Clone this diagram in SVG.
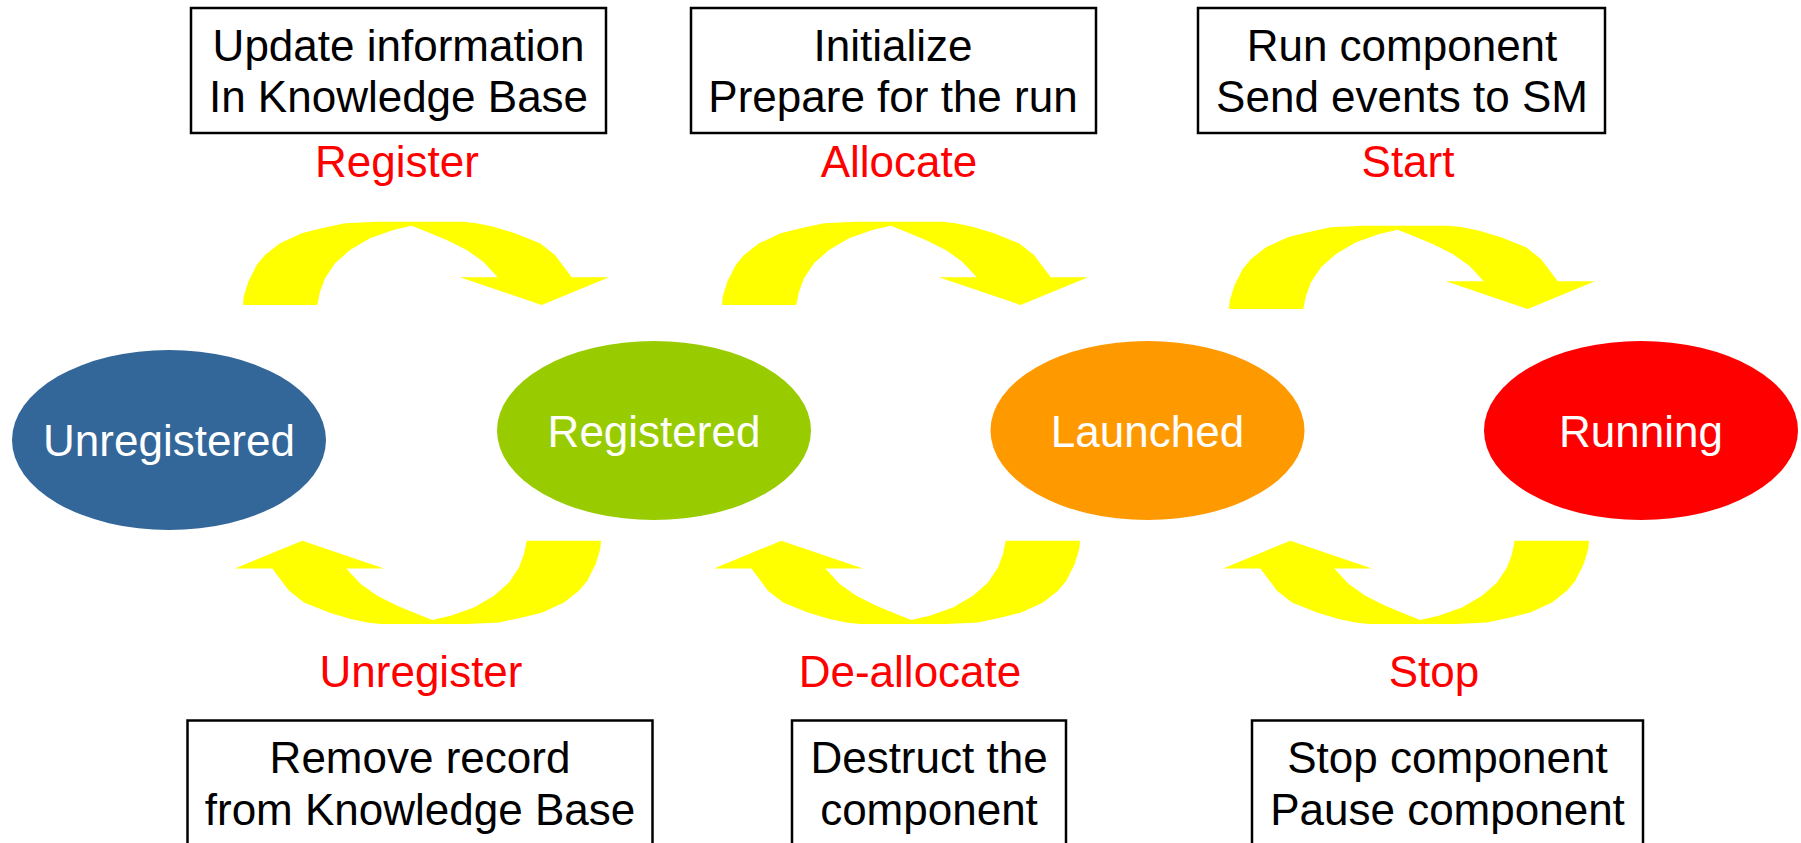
<svg xmlns="http://www.w3.org/2000/svg" xmlns:xlink="http://www.w3.org/1999/xlink" width="1801" height="843" viewBox="0 0 1801 843">
<style>
text{font-family:"Liberation Sans",Arial,Helvetica,sans-serif;font-size:44px;text-anchor:middle}
.box{fill:#fff;stroke:#000;stroke-width:2.5}
.bt{fill:#000}
.lbl{fill:#ff0000}
.st{fill:#fff}
.arr{fill:#ffff00}
</style>
<defs>
<path id="curl" class="arr" d="M0,0 L0.7,-8.3 L5.3,-23.3 L13.7,-40 L22,-50 L37,-61.7 L58.7,-71.7 L78.7,-76.7 L102,-81.7 L133.7,-83.3 L220.3,-83.3 L233.7,-81.7 L250.3,-78.3 L272,-71.7 L297,-61.7 L312,-50 L328.7,-27.7 L366,-27.7 L298.7,0 L217,-27.7 L254.7,-27.7 L240.3,-43.3 L223.7,-55 L203.7,-65 L183.7,-73.3 L168.7,-79.3 L150.3,-75 L127,-66.7 L107,-55 L92,-41.7 L82,-26.7 L77,-13.3 L74.3,0 Z"/>
</defs>
<rect width="1801" height="843" fill="#fff"/>
<g id="connectors">
<use xlink:href="#curl" href="#curl" transform="translate(243,305)"/>
<use xlink:href="#curl" href="#curl" transform="translate(722,305)"/>
<use xlink:href="#curl" href="#curl" transform="translate(1229,309)"/>
<use xlink:href="#curl" href="#curl" transform="translate(601,540.7) rotate(180)"/>
<use xlink:href="#curl" href="#curl" transform="translate(1080,540.7) rotate(180)"/>
<use xlink:href="#curl" href="#curl" transform="translate(1589,540.7) rotate(180)"/>
</g>
<g id="labels">
<text class="lbl" x="397" y="177">Register</text>
<text class="lbl" x="899" y="177">Allocate</text>
<text class="lbl" x="1408" y="177">Start</text>
<text class="lbl" x="421" y="687">Unregister</text>
<text class="lbl" x="910" y="687">De-allocate</text>
<text class="lbl" x="1434" y="687">Stop</text>
</g>
<g id="note-register">
<rect class="box" x="191" y="8" width="415" height="125"/>
<text class="bt" x="398.5" y="61">Update information</text>
<text class="bt" x="398.5" y="112">In Knowledge Base</text>
</g>
<g id="note-allocate">
<rect class="box" x="691" y="8" width="405" height="125"/>
<text class="bt" x="893" y="61">Initialize</text>
<text class="bt" x="893" y="112">Prepare for the run</text>
</g>
<g id="note-start">
<rect class="box" x="1198" y="8" width="407" height="125"/>
<text class="bt" x="1402" y="61">Run component</text>
<text class="bt" x="1402" y="112">Send events to SM</text>
</g>
<g id="note-unregister">
<rect class="box" x="187.5" y="720.5" width="465" height="140"/>
<text class="bt" x="420" y="773">Remove record</text>
<text class="bt" x="420" y="825">from Knowledge Base</text>
</g>
<g id="note-deallocate">
<rect class="box" x="792" y="720.5" width="274" height="140"/>
<text class="bt" x="929" y="773">Destruct the</text>
<text class="bt" x="929" y="825">component</text>
</g>
<g id="note-stop">
<rect class="box" x="1252" y="720.5" width="391" height="140"/>
<text class="bt" x="1447.5" y="773">Stop component</text>
<text class="bt" x="1447.5" y="825">Pause component</text>
</g>
<g id="unregistered">
<ellipse cx="169" cy="440" rx="157" ry="90" fill="#336699"/>
<text class="st" x="169" y="456">Unregistered</text>
</g>
<g id="registered">
<ellipse cx="654" cy="430.5" rx="157" ry="89.5" fill="#99cc00"/>
<text class="st" x="654" y="446.5">Registered</text>
</g>
<g id="launched">
<ellipse cx="1147.5" cy="430.5" rx="157" ry="89.5" fill="#ff9900"/>
<text class="st" x="1147.5" y="446.5">Launched</text>
</g>
<g id="running">
<ellipse cx="1641" cy="430.5" rx="157" ry="89.5" fill="#ff0000"/>
<text class="st" x="1641" y="446.5">Running</text>
</g>
</svg>
